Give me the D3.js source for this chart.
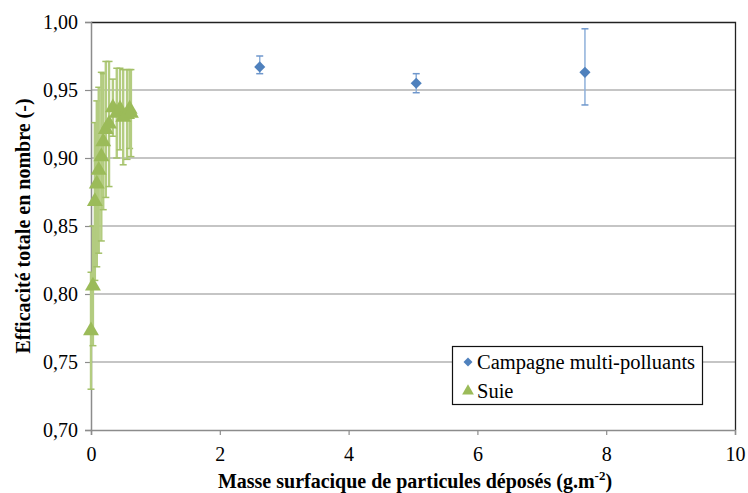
<!DOCTYPE html>
<html><head><meta charset="utf-8">
<script src="https://cdn.jsdelivr.net/npm/d3@7"></script>
<style>
body{margin:0;background:#fff;}
</style></head>
<body>
<svg id="c" width="748" height="493"></svg>
<script>
// ---- data ----
const campX = [2.62, 5.05, 7.67];
const campY = [0.967, 0.955, 0.963];
const campErrPlus = [0.008, 0.007, 0.032];
const campErrMinus = [0.005, 0.007, 0.024];

const suieX = [0.00, 0.03, 0.06, 0.09, 0.12, 0.16, 0.19, 0.23, 0.28, 0.34, 0.40, 0.45, 0.50, 0.56, 0.60, 0.62];
const suieY = [0.773, 0.806, 0.868, 0.881, 0.891, 0.901, 0.912, 0.921, 0.925, 0.937, 0.933, 0.936, 0.930, 0.932, 0.936, 0.933];
const suieErr = [0.043, 0.044, 0.058, 0.061, 0.061, 0.062, 0.050, 0.050, 0.046, 0.021, 0.033, 0.030, 0.035, 0.033, 0.029, 0.032];

const xTicks = [0, 2, 4, 6, 8, 10];
const yTicks = [0.70, 0.75, 0.80, 0.85, 0.90, 0.95, 1.00];
const seriesNames = ["Campagne multi-polluants", "Suie"];

// ---- layout ----
const FONT = "Liberation Serif, Times New Roman, DejaVu Serif, serif";
const svg = d3.select("#c");
const L = 91, R = 735, T = 22, B = 430;
const x = d3.scaleLinear().domain([0, 10]).range([L, R]);
const y = d3.scaleLinear().domain([0.70, 1.00]).range([B, T]);
const fmt = d => d.toFixed(2).replace(".", ",");

// gridlines
svg.append("g").selectAll("line").data(yTicks.filter(v => v > 0.7 && v < 1.0)).join("line")
  .attr("x1", L).attr("x2", R).attr("y1", d => y(d)).attr("y2", d => y(d))
  .attr("stroke", "#8c8c8c").attr("stroke-width", 1.2);

// top and right border
svg.append("path").attr("d", `M${L},${T + 0.5}H${R + 0.5}V${B}`)
  .attr("fill", "none").attr("stroke", "#222").attr("stroke-width", 1.3);

// axes
const yAxis = d3.axisLeft(y).tickValues(yTicks).tickFormat(fmt).tickSize(6).tickPadding(7);
const gy = svg.append("g").attr("transform", `translate(${L},0)`).call(yAxis);
const xAxis = d3.axisBottom(x).tickValues(xTicks).tickFormat(d3.format("d")).tickSize(5).tickPadding(12);
const gx = svg.append("g").attr("transform", `translate(0,${B})`).call(xAxis);
[gx, gy].forEach(g => {
  g.attr("font-family", FONT).attr("font-size", 20);
  g.select(".domain").attr("stroke", "#8c8c8c").attr("stroke-width", 1.5);
  g.selectAll(".tick line").attr("stroke", "#8c8c8c").attr("stroke-width", 1.2);
  g.selectAll("text").attr("fill", "#000");
});

// Suie error bars
const gE = svg.append("g");
suieX.forEach((xv, i) => {
  const cx = x(xv), y1 = y(suieY[i] + suieErr[i]), y0 = y(suieY[i] - suieErr[i]);
  gE.append("line").attr("x1", cx).attr("x2", cx).attr("y1", y1).attr("y2", y0)
    .attr("stroke", "#b3cc80").attr("stroke-width", 2.4);
  [y1, y0].forEach(yy => gE.append("line").attr("x1", cx - 3.5).attr("x2", cx + 3.5)
    .attr("y1", yy).attr("y2", yy).attr("stroke", "#a3c068").attr("stroke-width", 1.5));
});

// Campagne error bars
campX.forEach((xv, i) => {
  const cx = x(xv), y1 = y(campY[i] + campErrPlus[i]), y0 = y(campY[i] - campErrMinus[i]);
  gE.append("line").attr("x1", cx).attr("x2", cx).attr("y1", y1).attr("y2", y0)
    .attr("stroke", "#8eb0da").attr("stroke-width", 1.5);
  [y1, y0].forEach(yy => gE.append("line").attr("x1", cx - 3.5).attr("x2", cx + 3.5)
    .attr("y1", yy).attr("y2", yy).attr("stroke", "#6f97cc").attr("stroke-width", 1.5));
});

const tri = d3.symbol().type(d3.symbolTriangle).size(110);
const dia = d3.symbol().type(d3.symbolSquare).size(62);

svg.append("g").selectAll("path").data(suieX.map((v, i) => [v, suieY[i]])).join("path")
  .attr("d", tri).attr("transform", d => `translate(${x(d[0])},${y(d[1])})`)
  .attr("fill", "#9bbb59");

svg.append("g").selectAll("path").data(campX.map((v, i) => [v, campY[i]])).join("path")
  .attr("d", dia).attr("transform", d => `translate(${x(d[0])},${y(d[1])}) rotate(45)`)
  .attr("fill", "#4f81bd");

// legend
const lg = svg.append("g");
lg.append("rect").attr("x", 452.5).attr("y", 346.5).attr("width", 250).attr("height", 58)
  .attr("fill", "#fff").attr("stroke", "#111").attr("stroke-width", 1.2);
lg.append("path").attr("d", d3.symbol().type(d3.symbolSquare).size(40))
  .attr("transform", "translate(468,362) rotate(45)").attr("fill", "#4f81bd");
lg.append("path").attr("d", d3.symbol().type(d3.symbolTriangle).size(60))
  .attr("transform", "translate(468,391)").attr("fill", "#9bbb59");
lg.append("text").attr("x", 477).attr("y", 369).attr("font-size", 20.5).attr("font-family", FONT).text(seriesNames[0]);
lg.append("text").attr("x", 477).attr("y", 398).attr("font-size", 20.5).attr("font-family", FONT).text(seriesNames[1]);

// axis titles
const xt = svg.append("text").attr("x", 415).attr("y", 488).attr("text-anchor", "middle")
  .attr("font-size", 20).attr("font-weight", "bold").attr("font-family", FONT);
xt.append("tspan").text("Masse surfacique de particules déposés (g.m");
xt.append("tspan").attr("dy", -8).attr("font-size", 13).text("-2");
xt.append("tspan").attr("dy", 8).text(")");

svg.append("text").attr("transform", "translate(30,226) rotate(-90)").attr("text-anchor", "middle")
  .attr("font-size", 20).attr("font-weight", "bold").attr("font-family", FONT).text("Efficacité totale en nombre (-)");
</script>
</body></html>
